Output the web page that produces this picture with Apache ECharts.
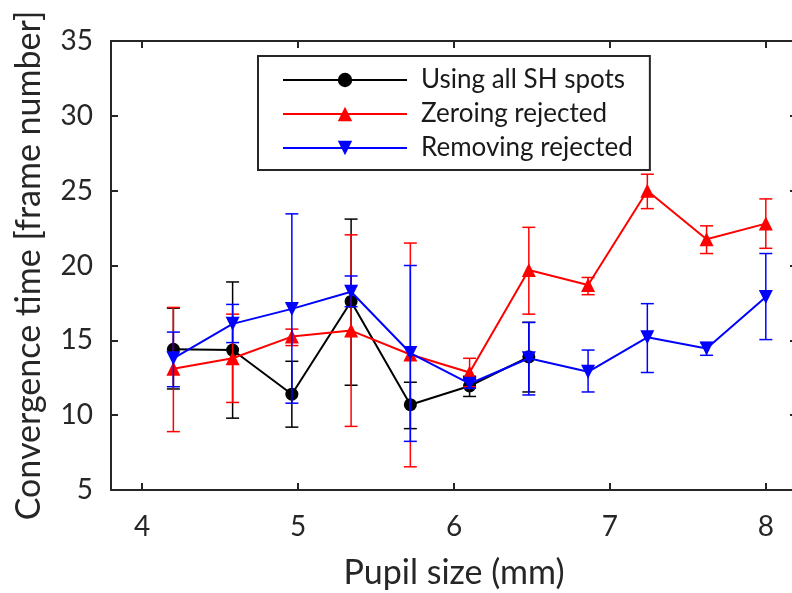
<!DOCTYPE html>
<html>
<head>
<meta charset="utf-8">
<script src="https://cdn.jsdelivr.net/npm/echarts@6/dist/echarts.min.js"></script>
<style>
  html, body { margin: 0; padding: 0; background: #fff; }
  #chart { width: 792px; height: 593px; }
</style>
</head>
<body>
<div id="chart"></div>
<script>
// ===== Data =====
const pupilSize = [4.2, 4.58, 4.96, 5.34, 5.72, 6.1, 6.48, 6.86, 7.24, 7.62, 8.0];
const xTicks = [4, 5, 6, 7, 8];

// Using all SH spots (first 7 sizes only)
const allSpots     = [14.4, 14.35, 11.4, 17.6, 10.7, 11.95, 13.9];
const allSpotsLow  = [11.75, 9.8, 9.2, 12.0, 9.1, 11.25, 11.55];
const allSpotsHigh = [17.15, 18.9, 13.6, 23.1, 12.2, 12.6, 16.2];

// Zeroing rejected
const zeroing     = [13.1, 13.8, 15.25, 15.65, 14.05, 12.85, 19.7, 18.7, 25.0, 21.75, 22.8];
const zeroingLow  = [8.9, 10.85, 14.65, 9.25, 6.55, 11.9, 16.75, 18.05, 23.8, 20.8, 21.15];
const zeroingHigh = [17.2, 16.75, 15.75, 22.05, 21.5, 13.8, 22.55, 19.2, 26.1, 22.65, 24.45];

// Removing rejected
const removing     = [13.8, 16.1, 17.1, 18.25, 14.15, 12.1, 13.8, 12.9, 15.2, 14.45, 17.9];
const removingLow  = [11.9, 14.85, 10.8, 17.25, 8.25, 11.8, 11.35, 11.55, 12.85, 14.0, 15.05];
const removingHigh = [15.55, 17.4, 23.45, 19.3, 20.0, 12.4, 16.2, 14.35, 17.45, 14.85, 20.8];

const FONT = 'Lato';
const AXIS_COLOR = '#262626';

// helper: pair x with y
const pts = (ys) => ys.map((y, i) => [pupilSize[i], y]);
const bars = (lo, hi) => lo.map((l, i) => [pupilSize[i], l, hi[i]]);

function errorBarRenderer(color) {
  return (params, api) => {
    const x = api.value(0);
    const lo = api.coord([x, api.value(1)]);
    const hi = api.coord([x, api.value(2)]);
    const w = 6.5;
    const style = { stroke: color, lineWidth: 1.5 };
    return {
      type: 'group',
      children: [
        { type: 'line', shape: { x1: lo[0], y1: lo[1], x2: hi[0], y2: hi[1] }, style },
        { type: 'line', shape: { x1: lo[0] - w, y1: lo[1], x2: lo[0] + w, y2: lo[1] }, style },
        { type: 'line', shape: { x1: hi[0] - w, y1: hi[1], x2: hi[0] + w, y2: hi[1] }, style }
      ]
    };
  };
}

function errSeries(color, lo, hi, z) {
  return {
    type: 'custom',
    renderItem: errorBarRenderer(color),
    data: bars(lo, hi),
    encode: { x: 0, y: [1, 2] },
    silent: true,
    z: z
  };
}

function lineSeries(name, color, ys, symbol, size, z) {
  return {
    name: name,
    type: 'line',
    data: pts(ys),
    symbol: symbol,
    symbolSize: size,
    showAllSymbol: true,
    itemStyle: { color: color, borderWidth: 0 },
    lineStyle: { color: color, width: 2 },
    z: z,
    animation: false
  };
}

const axisLine = { show: true, lineStyle: { color: AXIS_COLOR, width: 2 } };
const axisTick = { show: true, inside: true, length: 7, lineStyle: { color: AXIS_COLOR, width: 2 } };

const chart = echarts.init(document.getElementById('chart'), null, { renderer: 'canvas' });

chart.setOption({
  animation: false,
  backgroundColor: '#fff',
  grid: { left: 111, top: 41, width: 686, height: 449, outerBoundsMode: 'none' },
  legend: {
    orient: 'vertical',
    left: 258,
    top: 56,
    data: ['Using all SH spots', 'Zeroing rejected', 'Removing rejected'],
    itemWidth: 124,
    itemHeight: 18,
    itemGap: 8,
    padding: [11, 17, 9, 24],
    borderColor: AXIS_COLOR,
    borderWidth: 2,
    backgroundColor: '#fff',
    textStyle: { fontFamily: FONT, fontSize: 26, color: '#1a1a1a', lineHeight: 26, padding: [0, 0, 0, 9] }
  },
  xAxis: [{
    type: 'value',
    min: 3.8,
    max: 8.2,
    name: 'Pupil size (mm)',
    nameLocation: 'middle',
    nameGap: 66,
    nameTextStyle: { fontFamily: FONT, fontSize: 34, color: '#262626' },
    axisLine: axisLine,
    axisTick: Object.assign({ customValues: xTicks }, axisTick),
    axisLabel: { customValues: xTicks, margin: 23, fontFamily: FONT, fontSize: 28, color: '#262626' },
    splitLine: { show: false }
  }, {
    type: 'value',
    position: 'top',
    min: 3.8,
    max: 8.2,
    axisLine: axisLine,
    axisTick: Object.assign({ customValues: xTicks }, axisTick),
    axisLabel: { show: false },
    splitLine: { show: false }
  }],
  yAxis: [{
    type: 'value',
    min: 5,
    max: 35,
    interval: 5,
    name: 'Convergence time [frame number]',
    nameLocation: 'middle',
    nameGap: 65,
    nameTextStyle: { fontFamily: FONT, fontSize: 34, color: '#262626' },
    axisLine: axisLine,
    axisTick: axisTick,
    axisLabel: { margin: 18, fontFamily: FONT, fontSize: 28, color: '#262626' },
    splitLine: { show: false }
  }, {
    type: 'value',
    position: 'right',
    min: 5,
    max: 35,
    interval: 5,
    axisLine: axisLine,
    axisTick: axisTick,
    axisLabel: { show: false },
    splitLine: { show: false }
  }],
  series: [
    errSeries('#000000', allSpotsLow, allSpotsHigh, 2),
    lineSeries('Using all SH spots', '#000000', allSpots, 'circle', 13, 3),
    errSeries('#ff0000', zeroingLow, zeroingHigh, 4),
    lineSeries('Zeroing rejected', '#ff0000', zeroing, 'triangle', 14, 5),
    errSeries('#0000ff', removingLow, removingHigh, 6),
    lineSeries('Removing rejected', '#0000ff', removing, 'path://M0,0 L10,0 L5,9 Z', 14, 7)
  ]
});
</script>
</body>
</html>
